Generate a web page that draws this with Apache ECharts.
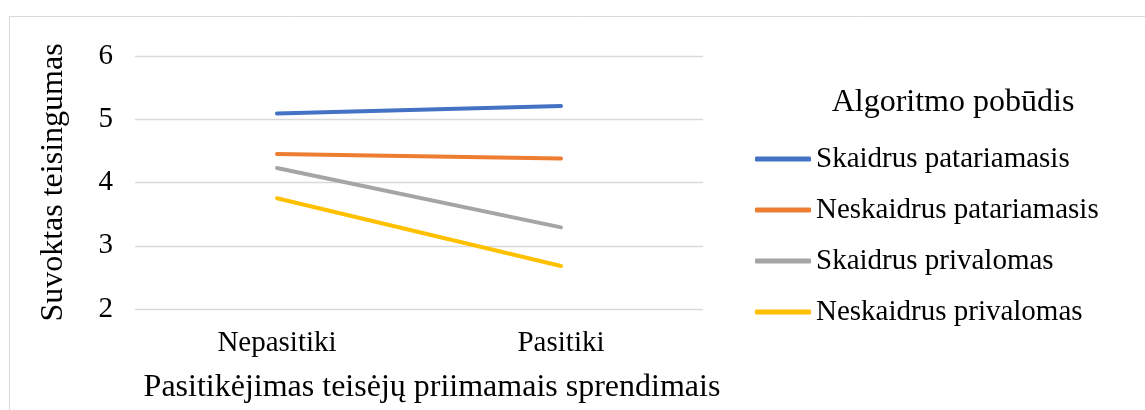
<!DOCTYPE html>
<html lang="lt">
<head>
    <meta charset="UTF-8">
    <title>Suvoktas teisingumas</title>
    <script src="https://cdn.jsdelivr.net/npm/echarts@6/dist/echarts.min.js"></script>
    <style>
        html, body { margin: 0; padding: 0; background: #fff; }
        #chart { width: 1145px; height: 410px; }
    </style>
</head>
<body>
<div id="chart"></div>
<script>
    // duomenys
    const categories = ["Nepasitiki", "Pasitiki"];
    const seriesNames = ["Skaidrus patariamasis", "Neskaidrus patariamasis", "Skaidrus privalomas", "Neskaidrus privalomas"];
    const skaidrusPatar = [5.09, 5.21];
    const neskaidrusPatar = [4.45, 4.38];
    const skaidrusPriv = [4.23, 3.29];
    const neskaidrusPriv = [3.75, 2.68];
    const yTicks = [2, 3, 4, 5, 6];
    const colors = ["#4472C4", "#ED7D31", "#A5A5A5", "#FFC000"];

    const font = "'Liberation Serif', 'Times New Roman', serif";
    const values = [skaidrusPatar, neskaidrusPatar, skaidrusPriv, neskaidrusPriv];

    const series = seriesNames.map((name, i) => ({
        name: name,
        type: 'line',
        data: values[i],
        symbol: 'none',
        lineStyle: { width: 4, color: colors[i], cap: 'round' },
        itemStyle: { color: colors[i] }
    }));

    const option = {
        animation: false,
        textStyle: { fontFamily: font },
        grid: { left: 135, right: 442, top: 56, bottom: 101 },
        graphic: [
            {
                type: 'rect',
                shape: { x: 9.5, y: 16.5, width: 1200, height: 500 },
                style: { fill: 'none', stroke: '#d9d9d9', lineWidth: 1 },
                silent: true
            },
            {
                type: 'text',
                x: 953, y: 103,
                style: {
                    text: 'Algoritmo pobūdis',
                    font: "32px " + font,
                    fill: '#000',
                    align: 'center',
                    verticalAlign: 'middle'
                }
            }
        ],
        legend: {
            orient: 'vertical',
            left: 750,
            top: 139,
            itemWidth: 56,
            itemHeight: 5,
            itemGap: 21,
            icon: 'roundRect',
            data: seriesNames,
            textStyle: { fontSize: 29, fontFamily: font, color: '#000', lineHeight: 30 }
        },
        xAxis: {
            type: 'category',
            data: categories,
            boundaryGap: true,
            axisLine: { show: false },
            axisTick: { show: false },
            axisLabel: { fontSize: 29, color: '#000', margin: 20 },
            name: 'Pasitikėjimas teisėjų priimamais sprendimais',
            nameLocation: 'middle',
            nameGap: 63,
            nameTextStyle: { fontSize: 32, color: '#000', padding: [0, 0, 0, 26] }
        },
        yAxis: {
            type: 'value',
            min: yTicks[0],
            max: yTicks[yTicks.length - 1],
            interval: 1,
            axisLine: { show: false },
            axisTick: { show: false },
            axisLabel: { fontSize: 29, color: '#000', margin: 22 },
            splitLine: { lineStyle: { color: '#d9d9d9', width: 1.3 } },
            name: 'Suvoktas teisingumas',
            nameLocation: 'middle',
            nameGap: 65,
            nameTextStyle: { fontSize: 32, color: '#000' }
        },
        series: series
    };

    const myChart = echarts.init(document.getElementById("chart"));
    myChart.setOption(option);
</script>
</body>
</html>
